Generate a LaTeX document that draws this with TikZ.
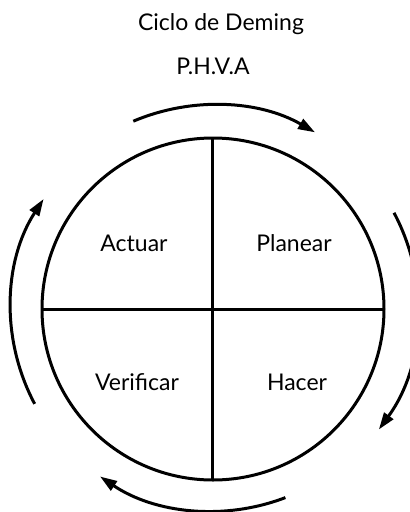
\documentclass[tikz,border=0pt]{standalone}
\usepackage{fontspec}
\setmainfont{Lato}
\usetikzlibrary{arrows.meta}
\begin{document}
\begin{tikzpicture}[x=1pt,y=-1pt,
  lbl/.style={font=\fontsize{23}{26}\selectfont, inner sep=0pt},
  ttl/.style={font=\fontsize{23}{26}\selectfont, inner sep=0pt},
  ring/.style={line width=3pt},
  cyc/.style={line width=3pt, -{Triangle[length=17pt,width=11pt]}}]
\useasboundingbox (0,0) rectangle (410,512);
\coordinate (c) at (213,309);
\node[ttl] (t1) at (221,24) {Ciclo de Deming};
\node[ttl] (t2) at (213,66) {P.H.V.A};
\draw[ring] (c) circle[radius=171pt];
\coordinate (top) at (212,138);
\coordinate (bot) at (212,480);
\coordinate (lft) at (42,309);
\coordinate (rgt) at (384,309);
\draw[ring] (top) -- (bot);
\draw[ring] (lft) -- (rgt);
\node[lbl] (a) at (134,243) {Actuar};
\node[lbl] (p) at (294,243) {Planear};
\node[lbl] (v) at (137,382) {Verificar};
\node[lbl] (h) at (297,382) {Hacer};
\draw[cyc] (c) ++(113:204pt) arc[start angle=113, end angle=60, radius=204pt];
\draw[cyc] (c) ++(28:205pt) arc[start angle=28, end angle=-36, radius=205pt];
\draw[cyc] (c) ++(-69:202pt) arc[start angle=-69, end angle=-124, radius=202pt];
\draw[cyc] (c) ++(208:202pt) arc[start angle=208, end angle=147, radius=202pt];
\end{tikzpicture}
\end{document}
